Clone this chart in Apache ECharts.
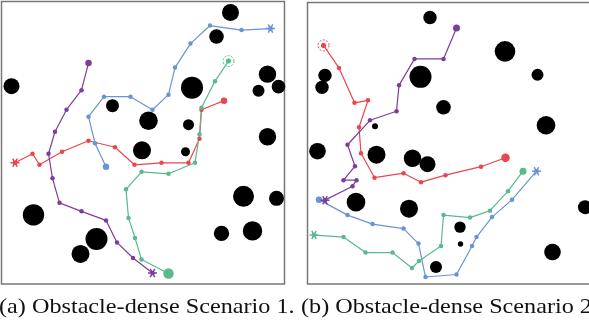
<!DOCTYPE html>
<html>
<head>
<meta charset="utf-8">
<script src="https://cdn.jsdelivr.net/npm/echarts@6/dist/echarts.min.js"></script>
<style>
  html, body { margin: 0; padding: 0; background: #fff; }
  #chart { width: 589px; height: 322px; }
</style>
</head>
<body>
<div id="chart"></div>
<script>
// map units: x 0..283 from the left edge, y 0..282 from the top edge
// obstacles are [x, y, radius]
const obstaclesA = [
  [10, 84.5, 8], [111, 104, 6.5], [147, 119, 9.3], [140.5, 148.5, 9], [32, 213, 10.7],
  [95, 237, 11], [79, 252, 9], [184, 150, 4.5], [187, 123, 5.5], [190.5, 86, 11],
  [215, 35, 7.3], [229, 11, 8.5], [266, 72.5, 8.7], [277, 85, 6.8], [257, 89, 6],
  [266, 135, 8.7], [242, 194.5, 10.5], [275, 196.5, 7.5], [220, 231.5, 7.7], [251, 229, 9.7]
];
const redA = [[13.5, 161], [31, 152], [38, 163], [60.5, 150], [87, 139], [113.5, 145.5], [133, 163], [160, 161], [187, 161], [198, 137], [200, 108], [222.5, 99]];
const blueA = [[269, 27], [240, 28.5], [208.5, 24], [189, 42], [173.5, 66], [167, 93], [151, 108], [129, 95], [102.5, 95], [87, 115], [93.5, 141.5], [104.5, 165]];
const greenA = [[227, 59.5], [213.5, 79.5], [200, 106], [198, 132.5], [193.5, 161], [167, 172], [140, 170], [124.5, 187.5], [127, 216], [133.5, 236], [140, 257.5], [167, 271.5]];
const purpleA = [[87, 61.5], [80, 88.5], [65, 108], [53.5, 130], [47, 152], [51, 176.5], [58, 201], [80, 209.5], [104.5, 218.5], [115.5, 240.5], [131.5, 256], [151, 271]];

const obstaclesB = [
  [122.5, 15, 6.7], [197.5, 49, 10.3], [230, 72.5, 6], [17.5, 73, 6.7], [14.5, 85, 6.7],
  [113, 74.5, 11], [136, 105, 7.3], [67.5, 124, 3], [238.5, 123, 9.3], [10, 149, 8.3],
  [69, 152.5, 9], [105, 156, 8.7], [120, 162, 8], [48.5, 200, 9.3], [101.5, 206.5, 9],
  [152.5, 225, 5.7], [153, 242, 2.7], [128.5, 265, 6], [245, 250, 8.3], [277.5, 205, 7]
];
const redB = [[16, 43], [31.5, 65.5], [47, 100.5], [60.5, 98], [51.5, 125], [53.5, 151], [67, 175.5], [96, 171], [113.5, 180], [138, 173], [173.5, 164.5], [198, 155.5]];
const blueB = [[229, 169], [204.5, 197.5], [184.5, 215], [169, 235], [164.5, 244], [149, 272.5], [118, 275], [111, 241.5], [96, 226.5], [65, 222], [40, 213], [11.5, 197.5]];
const greenB = [[6.5, 233], [36, 235], [58, 250.5], [85, 250.5], [104.5, 266], [111.5, 259], [133.5, 244], [136, 213], [162.5, 215.5], [182.5, 208.5], [200.5, 189], [215.5, 169]];
const purpleB = [[149, 25.5], [136, 56.5], [107, 56.5], [91.5, 83], [89, 109], [62.5, 118], [40, 142.5], [47.5, 164], [36, 178], [49, 178], [45, 184], [17.5, 198]];

const captions = ['(a) Obstacle-dense Scenario 1.', '(b) Obstacle-dense Scenario 2.'];

const RED = '#e8474d', BLUE = '#6a93d6', GREEN = '#5bb98f', PURPLE = '#7c3f99';

// thin six-spoke asterisk
const ASTERISK = 'path://M-5,-0.8L5,-0.8L5,0.8L-5,0.8Z' +
  'M-1.81,-4.73L3.19,3.93L1.81,4.73L-3.19,-3.93Z' +
  'M-3.19,3.93L1.81,-4.73L3.19,-3.93L-1.81,4.73Z';

const panels = [
  {
    obstacles: obstaclesA,
    paths: [
      { data: redA, color: RED, first: 'star', last: 'dot', lastSize: 6.5 },
      { data: blueA, color: BLUE, first: 'star', last: 'dot', lastSize: 6.5 },
      { data: greenA, color: GREEN, first: 'ring', last: 'dot', lastSize: 10.5 },
      { data: purpleA, color: PURPLE, first: 'dot', last: 'star', firstSize: 6.5 }
    ]
  },
  {
    obstacles: obstaclesB,
    paths: [
      { data: redB, color: RED, first: 'ring', last: 'dot', lastSize: 8.5 },
      { data: blueB, color: BLUE, first: 'star', last: 'dot', lastSize: 6.5 },
      { data: greenB, color: GREEN, first: 'star', last: 'dot', lastSize: 7 },
      { data: purpleB, color: PURPLE, first: 'dot', last: 'star', firstSize: 7 }
    ]
  }
];

function markerItems(pt, kind, color, size) {
  if (kind === 'star') {
    return [
      { value: pt, symbol: ASTERISK, symbolSize: 9, itemStyle: { color } },
      { value: pt, symbol: 'circle', symbolSize: 4, itemStyle: { color } }
    ];
  }
  if (kind === 'ring') {
    return [
      { value: pt, symbol: 'circle', symbolSize: 11, itemStyle: { color: 'rgba(0,0,0,0)', borderColor: color, borderWidth: 1, borderType: [2, 1.5] } },
      { value: pt, symbol: 'circle', symbolSize: 5, itemStyle: { color } }
    ];
  }
  return [{ value: pt, symbol: 'circle', symbolSize: size || 7, itemStyle: { color } }];
}

const series = [];
panels.forEach((p, i) => {
  series.push({
    type: 'scatter',
    xAxisIndex: i,
    yAxisIndex: i,
    z: 1,
    data: p.obstacles,
    symbolSize: (v) => v[2] * 2,
    itemStyle: { color: '#000', opacity: 1 },
    silent: true
  });
  const markers = [];
  p.paths.forEach((path) => {
    series.push({
      type: 'line',
      xAxisIndex: i,
      yAxisIndex: i,
      z: 2,
      data: path.data,
      symbol: 'circle',
      symbolSize: 4.5,
      showSymbol: true,
      lineStyle: { color: path.color, width: 1.2 },
      itemStyle: { color: path.color },
      silent: true
    });
    const d = path.data;
    markers.push(...markerItems(d[0], path.first, path.color, path.firstSize));
    markers.push(...markerItems(d[d.length - 1], path.last, path.color, path.lastSize));
  });
  series.push({
    type: 'scatter',
    xAxisIndex: i,
    yAxisIndex: i,
    z: 3,
    data: markers,
    itemStyle: { opacity: 1 },
    silent: true
  });
});

const captionStyle = { fontFamily: 'Liberation Serif', fontSize: 22, fill: '#111', verticalAlign: 'middle' };

const chart = echarts.init(document.getElementById('chart'), null, { renderer: 'canvas' });
chart.setOption({
  animation: false,
  grid: [
    { left: 1.5, top: 1.5, width: 283, height: 282.5, show: true, borderColor: '#777', borderWidth: 1.5, backgroundColor: '#fff', outerBoundsMode: 'none' },
    { left: 307.5, top: 2.5, width: 285, height: 281.5, show: true, borderColor: '#777', borderWidth: 1.5, backgroundColor: '#fff', outerBoundsMode: 'none' }
  ],
  xAxis: [
    { type: 'value', gridIndex: 0, min: 0, max: 283, show: false },
    { type: 'value', gridIndex: 1, min: 0, max: 285, show: false }
  ],
  yAxis: [0, 1].map((i) => ({ type: 'value', gridIndex: i, min: 0, max: 282, inverse: true, show: false })),
  graphic: [
    { type: 'text', x: -1, y: 307, scaleX: 1.1, style: Object.assign({ text: captions[0] }, captionStyle) },
    { type: 'text', x: 301, y: 307, scaleX: 1.1, style: Object.assign({ text: captions[1] }, captionStyle) }
  ],
  series
});
</script>
</body>
</html>
